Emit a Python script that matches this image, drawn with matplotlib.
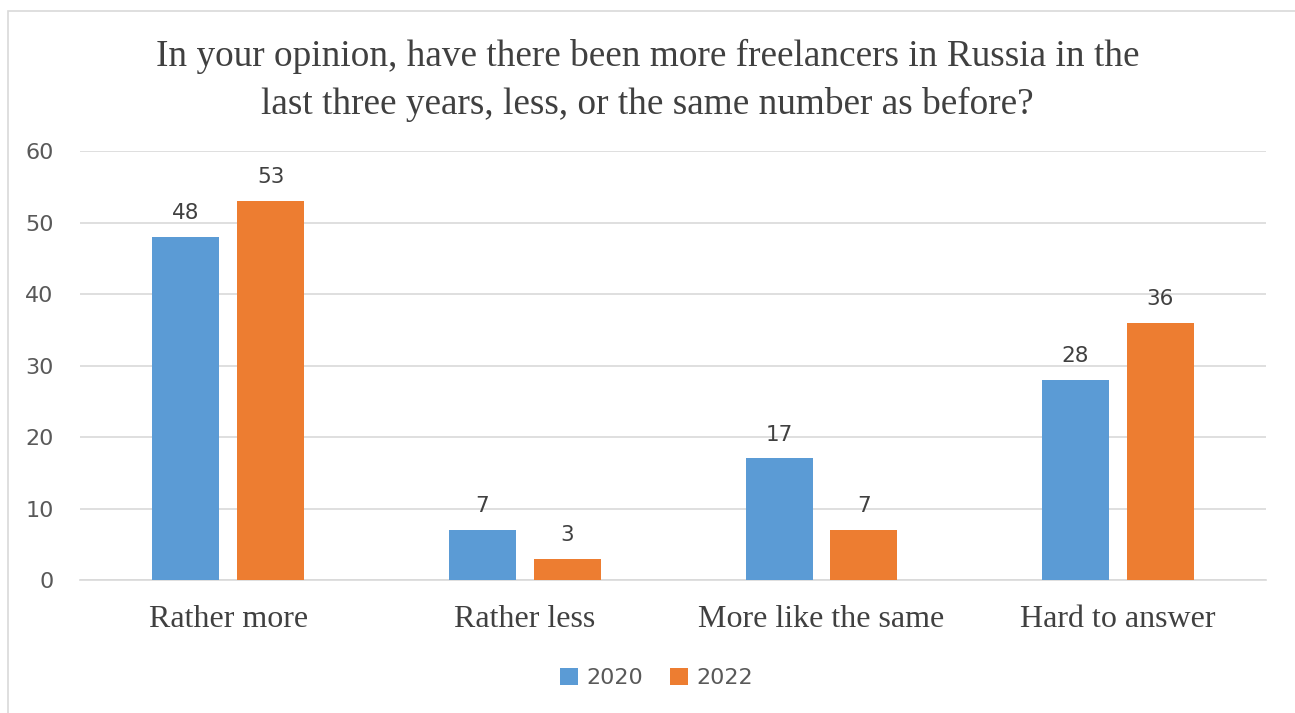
import matplotlib.pyplot as plt
import numpy as np
from matplotlib.patches import Rectangle

# data
categories = ['Rather more', 'Rather less', 'More like the same', 'Hard to answer']
series_names = ['2020', '2022']
vals_2020 = [48, 7, 17, 28]
vals_2022 = [53, 3, 7, 36]
colors = ['#5B9BD5', '#ED7D31']
title = ('In your opinion, have there been more freelancers in Russia in the\n'
         'last three years, less, or the same number as before?')

fig = plt.figure(figsize=(12.95, 7.13), dpi=100)
ax = fig.add_axes([0.0618, 0.1865, 0.916, 0.6017])

# outer chart border
fig.patches.append(Rectangle((8/1295, -0.05), 1.2, (713-11)/713 + 0.05, transform=fig.transFigure,
                             fill=False, edgecolor='#D9D9D9', lw=1.2))

x = np.arange(len(categories))
w = 0.226
off = 0.143
b1 = ax.bar(x - off, vals_2020, w, color=colors[0], label=series_names[0], zorder=3)
b2 = ax.bar(x + off, vals_2022, w, color=colors[1], label=series_names[1], zorder=3)

for bars in (b1, b2):
    for r in bars:
        ax.text(r.get_x() + r.get_width()/2, r.get_height() + 1.9, f'{int(r.get_height())}',
                ha='center', va='bottom', fontsize=15.5, color='#404040', family='DejaVu Sans')

ax.set_xlim(-0.5, 3.5)
ax.set_ylim(0, 60)
ax.set_yticks(range(0, 61, 10))
ax.yaxis.grid(True, color='#D9D9D9', lw=1.2, zorder=0)
ax.set_axisbelow(True)
for s in ['top', 'right', 'left']:
    ax.spines[s].set_visible(False)
ax.spines['bottom'].set_color('#D9D9D9')
ax.spines['bottom'].set_linewidth(1.2)
ax.tick_params(axis='y', length=0, labelsize=16, labelcolor='#595959', pad=19)
ax.tick_params(axis='x', length=0, pad=18)
ax.set_xticks(x)
ax.set_xticklabels(categories, fontsize=23, family='Liberation Serif', color='#404040')

fig.text(0.5, 0.887, title, ha='center', va='center', fontsize=26.8,
         family='Liberation Serif', color='#404040', linespacing=1.45)

leg = fig.legend(loc='center', bbox_to_anchor=(0.507, 0.049), ncol=2, frameon=False,
                 fontsize=16, handlelength=0.8, handleheight=0.8, handletextpad=0.4,
                 columnspacing=1.2)
for t in leg.get_texts():
    t.set_color('#595959')

fig.savefig('out.png', dpi=100)
